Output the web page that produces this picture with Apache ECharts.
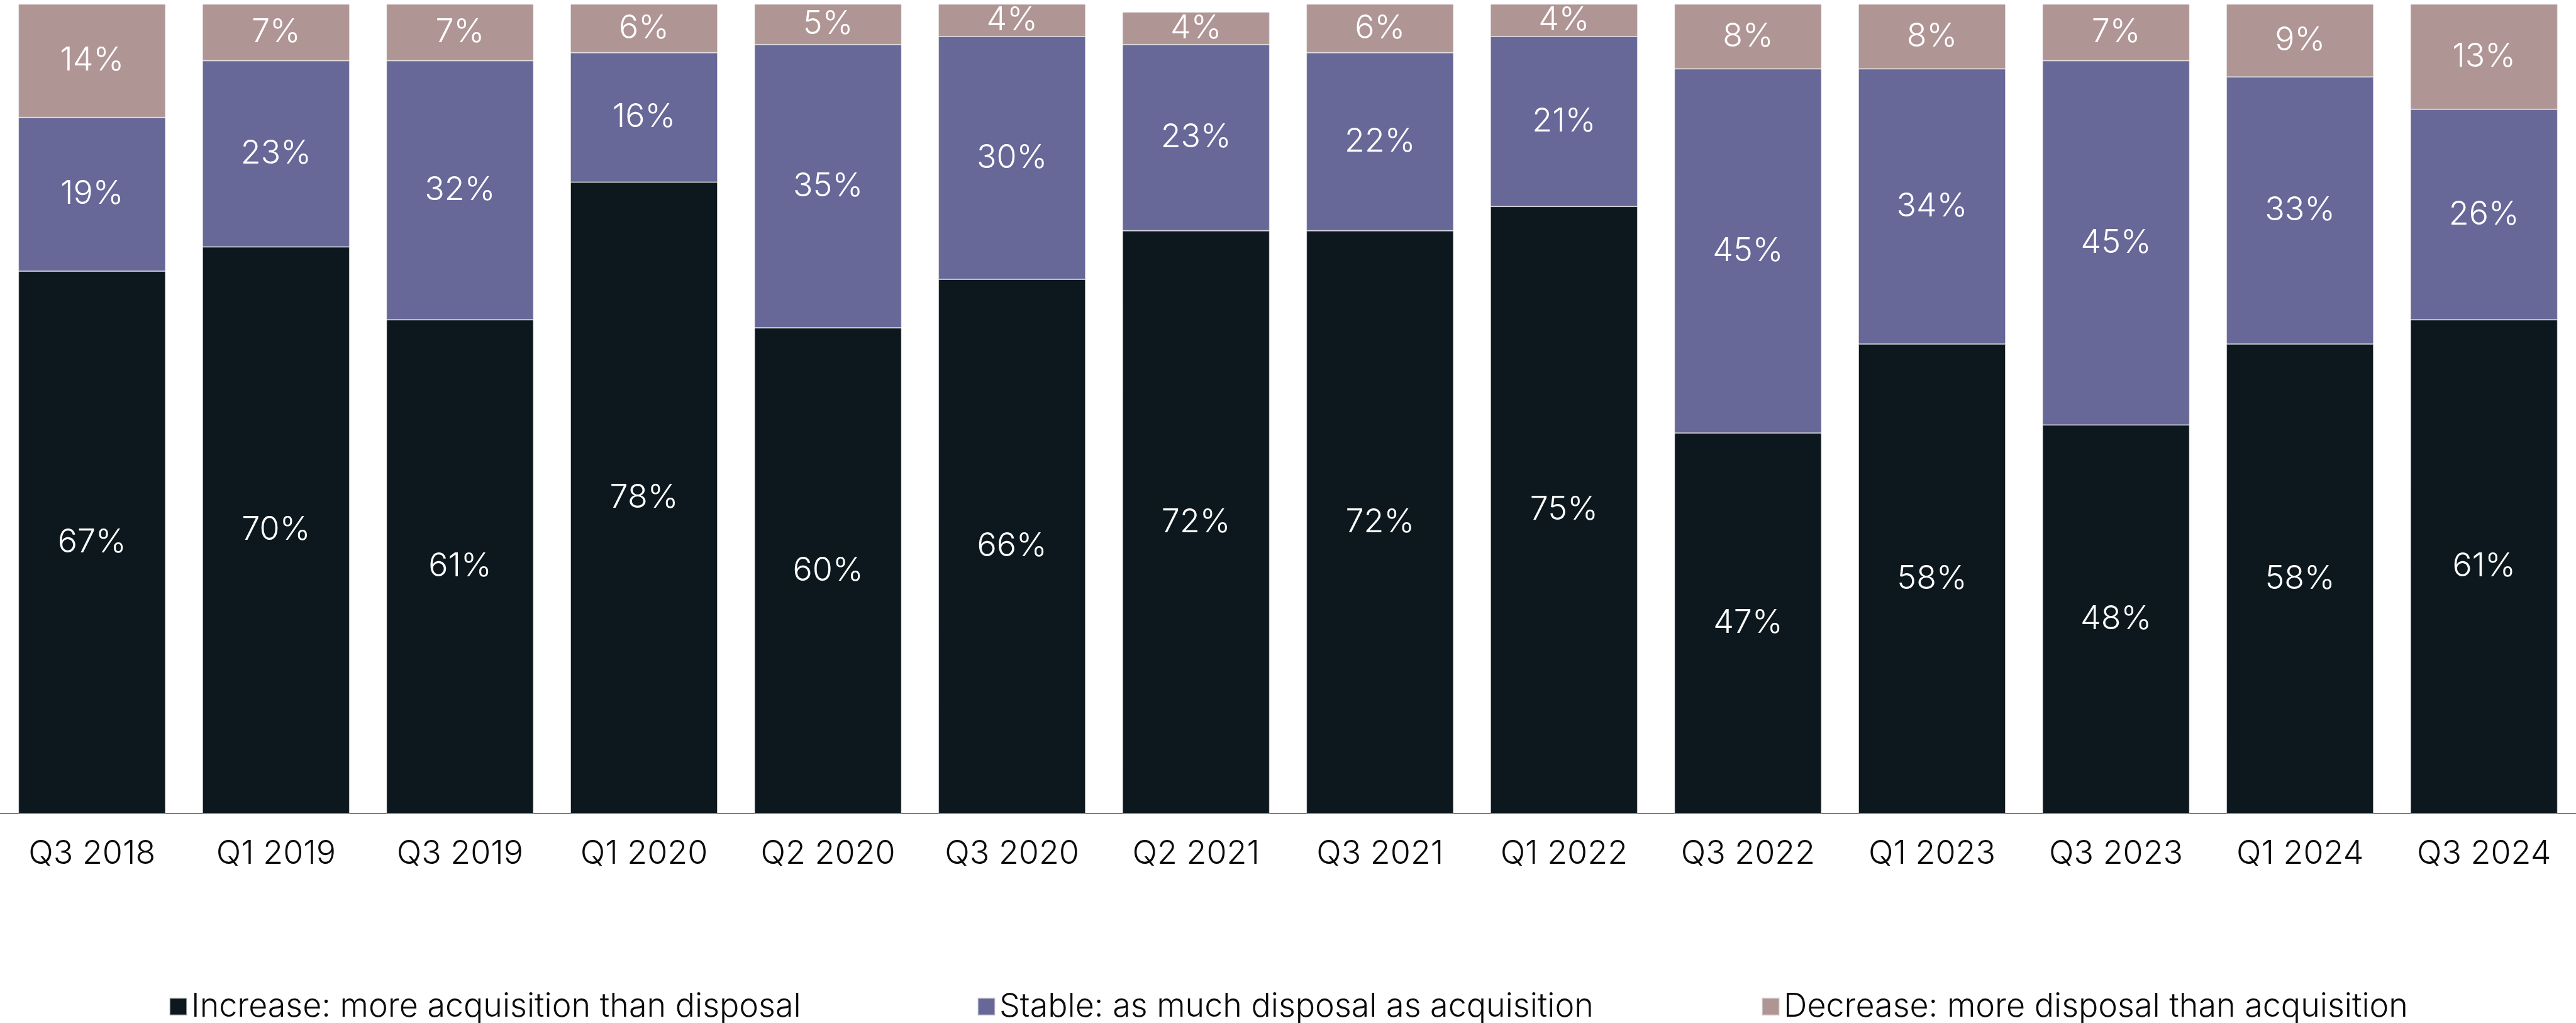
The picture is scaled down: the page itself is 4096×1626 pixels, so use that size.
<!DOCTYPE html>
<html>
<head>
<meta charset="utf-8">
<title>Acquisition vs disposal intentions</title>
<script src="https://cdn.jsdelivr.net/npm/echarts@6/dist/echarts.min.js"></script>
<style>
  html, body { margin: 0; padding: 0; background: #ffffff; }
  #chart { width: 4096px; height: 1626px; }
</style>
</head>
<body>
<div id="chart"></div>
<script>
// Survey periods
const categories = ['Q3 2018', 'Q1 2019', 'Q3 2019', 'Q1 2020', 'Q2 2020', 'Q3 2020', 'Q2 2021',
  'Q3 2021', 'Q1 2022', 'Q3 2022', 'Q1 2023', 'Q3 2023', 'Q1 2024', 'Q3 2024'];

// Share of respondents (%) per answer
const increaseValues = [67, 70, 61, 78, 60, 66, 72, 72, 75, 47, 58, 48, 58, 61];
const stableValues   = [19, 23, 32, 16, 35, 30, 23, 22, 21, 45, 34, 45, 33, 26];
const decreaseValues = [14, 7, 7, 6, 5, 4, 4, 6, 4, 8, 8, 7, 9, 13];

const seriesNames = [
  'Increase: more acquisition than disposal',
  'Stable: as much disposal as acquisition',
  'Decrease: more disposal than acquisition'
];
const seriesColors = ['#0c181d', '#676798', '#b09595'];

const FONT = 'Inter, "Open Sans", sans-serif';
const TEXT_COLOR = '#0a0a0a';
const FONT_SIZE = 52;

const chart = echarts.init(document.getElementById('chart'), null, { renderer: 'canvas' });

function barSeries(name, values, color) {
  return {
    name: name,
    type: 'bar',
    stack: 'total',
    barWidth: 234,
    data: values,
    itemStyle: { color: color, borderColor: 'rgba(220,220,220,0.6)', borderWidth: 1 },
    label: {
      show: true,
      position: 'inside',
      formatter: p => p.value + '%',
      color: '#ffffff',
      fontFamily: FONT,
      fontWeight: 300,
      fontSize: FONT_SIZE
    },
    emphasis: { disabled: true }
  };
}

function legendAt(left, name) {
  return {
    show: true,
    data: [name],
    left: left,
    top: 1569,
    itemWidth: 27,
    itemHeight: 27,
    icon: 'rect',
    selectedMode: false,
    textStyle: {
      fontFamily: FONT,
      fontWeight: 300,
      fontSize: FONT_SIZE,
      color: TEXT_COLOR,
      padding: [0, 0, 0, 2]
    }
  };
}

const option = {
  backgroundColor: '#ffffff',
  animation: false,
  grid: { left: -1, right: -9, top: 6.5, bottom: 333, containLabel: false },
  legend: [
    legendAt(264, seriesNames[0]),
    legendAt(1549, seriesNames[1]),
    legendAt(2796, seriesNames[2])
  ],
  xAxis: {
    type: 'category',
    data: categories,
    axisLine: { show: true, lineStyle: { color: '#555555', width: 1.5 } },
    axisTick: { show: false },
    axisLabel: {
      color: TEXT_COLOR,
      fontFamily: FONT,
      fontWeight: 300,
      fontSize: FONT_SIZE,
      margin: 38,
      interval: 0
    }
  },
  yAxis: {
    type: 'value',
    min: 0,
    max: 100,
    show: false,
    splitLine: { show: false }
  },
  series: [
    barSeries(seriesNames[0], increaseValues, seriesColors[0]),
    barSeries(seriesNames[1], stableValues, seriesColors[1]),
    barSeries(seriesNames[2], decreaseValues, seriesColors[2])
  ]
};

chart.setOption(option);
</script>
</body>
</html>
